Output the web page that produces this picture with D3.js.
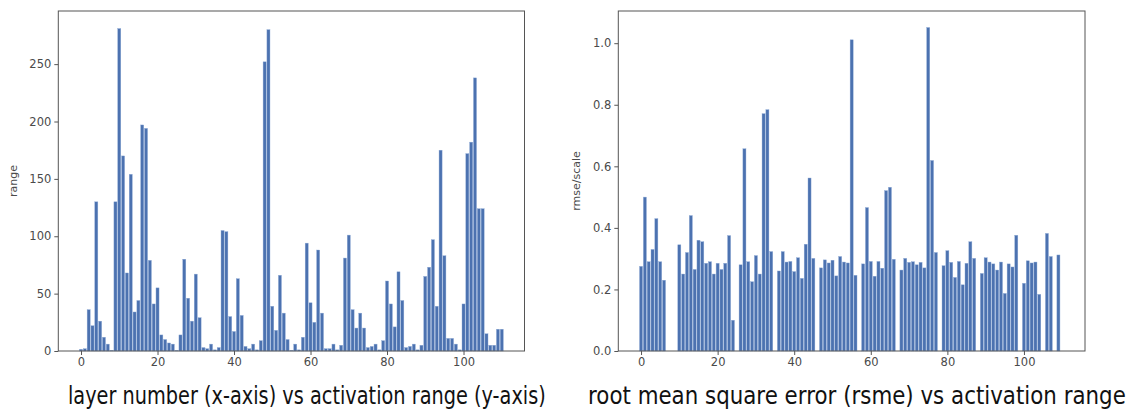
<!DOCTYPE html>
<meta charset="utf-8">
<body style="margin:0;background:#fff">
    <script src="https://d3js.org/d3.v7.min.js"></script>
    <script>

// activation range per layer (left chart)
var layerRange = [1.5, 2, 36, 22, 130, 26, 12, 6, 0.5, 130,
    281, 170, 68, 154, 34, 44, 197, 194, 79, 41,
    55, 14, 10, 7, 6, 0.5, 14, 80, 46, 26,
    67, 29, 3, 2, 6, 1, 3, 105, 104, 30,
    17, 63, 31, 4, 2, 6, 1, 9, 252, 280,
    39, 18, 66, 33, 10, 0.5, 6, 1, 12, 94,
    42, 25, 88, 33, 2, 2, 6, 1, 5, 81,
    101, 36, 20, 33, 20, 3, 4, 6, 1, 9,
    61, 41, 21, 69, 44, 3, 4, 6, 1, 5,
    65, 73, 97, 39, 175, 83, 11, 11, 6, 1,
    41, 172, 182, 238, 124, 124, 15, 5, 5, 19,
    19];

// rmse/scale per layer (right chart)
var rmseScale = [0.275, 0.50, 0.29, 0.33, 0.43, 0.29, 0.23, 0, 0, 0,
    0.345, 0.25, 0.32, 0.44, 0.265, 0.36, 0.355, 0.285, 0.29, 0.25,
    0.285, 0.265, 0.285, 0.375, 0.10, 0, 0.28, 0.657, 0.29, 0.225,
    0.31, 0.25, 0.771, 0.784, 0.323, 0, 0.26, 0.323, 0.289, 0.291,
    0.258, 0.303, 0.236, 0.347, 0.562, 0.301, 0, 0.27, 0.296, 0.286,
    0.295, 0.244, 0.307, 0.289, 0.286, 1.011, 0.246, 0, 0.283, 0.466,
    0.291, 0.243, 0.291, 0.269, 0.521, 0.532, 0.298, 0, 0.263, 0.301,
    0.288, 0.29, 0.28, 0.288, 0.27, 1.051, 0.619, 0.32, 0, 0.277,
    0.326, 0.288, 0.239, 0.291, 0.215, 0.285, 0.355, 0.301, 0, 0.252,
    0.303, 0.289, 0.283, 0.263, 0.289, 0.187, 0.283, 0.273, 0.376, 0,
    0.22, 0.293, 0.286, 0.289, 0.184, 0, 0.382, 0.307, 0, 0.312,
    0];

var xTicks = [0, 20, 40, 60, 80, 100];
var rangeTicks = [0, 50, 100, 150, 200, 250];
var rmseTicks = [0, 0.2, 0.4, 0.6, 0.8, 1.0];
var captions = ["layer number (x-axis) vs activation range (y-axis)",
    "root mean square error (rsme) vs activation range"];

var W = 1134, H = 412;
var svg = d3.select("body").append("svg")
    .attr("width", W)
    .attr("height", H)
    .style("display", "block");

var barColor = "#4c72b0";

var draw_panel = function (opts) {
    var x = d3.scaleLinear().domain([-5.94, 115.94]).range([opts.left, opts.right]);
    var y = d3.scaleLinear().domain([0, opts.ymax]).range([351, 11]);
    var g = svg.append("g");

    var bw = x(0.8) - x(0);
    g.selectAll(".bar")
        .data(opts.values)
      .enter().append("rect")
        .attr("x", function (d, i) { return x(i - 0.4); })
        .attr("y", function (d) { return y(d); })
        .attr("width", bw)
        .attr("height", function (d) { return y(0) - y(d); })
        .style("fill", barColor)
        .style("stroke", "#8fabd6")
        .style("stroke-width", 0.4);

    var xa = g.append("g")
        .attr("transform", "translate(0,351)")
        .call(d3.axisBottom(x).tickValues(xTicks).tickSize(4).tickPadding(3).tickFormat(d3.format("d")));
    var ya = g.append("g")
        .attr("transform", "translate(" + opts.left + ",0)")
        .call(d3.axisLeft(y).tickValues(opts.ticks).tickSize(4).tickPadding(3).tickFormat(opts.fmt));
    [xa, ya].forEach(function (a) {
        a.select(".domain").remove();
        a.selectAll("line").style("stroke", "#555");
        a.selectAll("text").style("font-family", "DejaVu Sans").style("font-size", "11.5px").style("fill", "#4a4a4a");
    });

    g.append("rect")
        .attr("x", opts.left)
        .attr("y", 11)
        .attr("width", opts.right - opts.left)
        .attr("height", 340)
        .style("fill", "none")
        .style("stroke", "#555")
        .style("stroke-width", 1);

    g.append("text")
        .attr("transform", "translate(" + opts.labelX + ",181) rotate(-90)")
        .attr("text-anchor", "middle")
        .style("font-family", "DejaVu Sans")
        .style("font-size", "11px")
        .style("fill", "#4a4a4a")
        .text(opts.label);

    // caption: natural width squeezed horizontally to fit the reference span
    var cap = g.append("text")
        .attr("x", 0)
        .attr("y", 0)
        .style("font-family", "DejaVu Sans")
        .style("font-size", "25px")
        .style("fill", "#111")
        .text(opts.caption);
    var natural = cap.node().getComputedTextLength();
    cap.attr("transform", "translate(" + opts.capX + ",404) scale(" + (opts.capW / natural) + ",1)");
};

draw_panel({ values: layerRange, left: 58.3, right: 524.5, ymax: 296.3, ticks: rangeTicks,
    fmt: d3.format("d"), label: "range", labelX: 17, caption: captions[0], capX: 68, capW: 478 });
draw_panel({ values: rmseScale, left: 618.3, right: 1085, ymax: 1.1046, ticks: rmseTicks,
    fmt: d3.format(".1f"), label: "rmse/scale", labelX: 580, caption: captions[1], capX: 588, capW: 538 });

    </script>
</body>
